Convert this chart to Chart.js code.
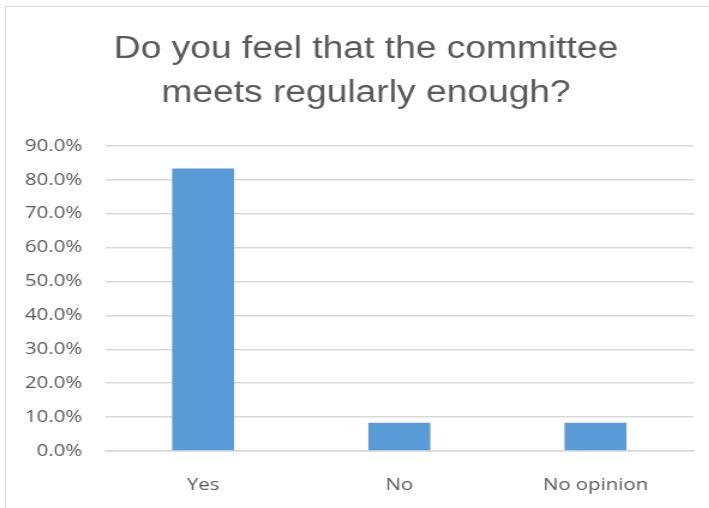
<!DOCTYPE html>
<html>
<head>
<meta charset="utf-8">
<script src="https://cdn.jsdelivr.net/npm/chart.js@4/dist/chart.umd.min.js"></script>
<style>
  body { margin: 0; background: #fff; }
  #wrap { position: relative; width: 709px; height: 508px; overflow: hidden; }
  #frame { position: absolute; left: 5px; top: 6px; width: 720px; height: 520px; border: 1px solid #d9d9d9; }
  /* the original picture is a bit stretched sideways, so stretch the canvas the same way */
  #chart { position: absolute; left: 0; top: 0; transform-origin: 0 0; transform: scaleX(1.2); }
</style>
</head>
<body>
<div id="wrap">
  <div id="frame"></div>
  <canvas id="chart" width="591" height="508"></canvas>
</div>
<script>
var categories = ["Yes", "No", "No opinion"];
var percents = [83.3, 8.3, 8.3];
var yTicks = [0, 10, 20, 30, 40, 50, 60, 70, 80, 90];
var titleLines = ["Do you feel that the committee", "meets regularly enough?"];

var chart = new Chart(document.getElementById("chart"), {
  type: 'bar',
  data: {
    labels: categories,
    datasets: [{
      data: percents,
      backgroundColor: '#5b9bd5',
      borderWidth: 0,
      categoryPercentage: 1,
      barPercentage: 0.316
    }]
  },
  options: {
    responsive: false,
    animation: false,
    layout: { padding: { left: 19, right: 0, top: 18, bottom: 12 } },
    plugins: {
      legend: { display: false },
      tooltip: { enabled: false },
      title: {
        display: true,
        text: titleLines,
        color: '#595959',
        font: { family: 'Liberation Sans', size: 31, weight: 'normal', lineHeight: 1.4 },
        padding: { top: 10, bottom: 31 }
      }
    },
    scales: {
      y: {
        min: yTicks[0],
        max: yTicks[yTicks.length - 1],
        afterBuildTicks: function(axis) {
          axis.ticks = yTicks.map(function(v) { return { value: v }; });
        },
        afterFit: function(axis) { axis.width = 68.5; },
        ticks: {
          color: '#595959',
          font: { family: 'Open Sans', size: 17 },
          padding: 19,
          callback: function(v) { return v.toFixed(1) + '%'; }
        },
        grid: { color: '#d9d9d9', lineWidth: 1.5, drawTicks: false },
        border: { display: false }
      },
      // empty axis on the right, only keeps the plot edge off the frame
      spacer: {
        position: 'right',
        min: 0,
        max: 1,
        afterFit: function(axis) { axis.width = 13; },
        ticks: { display: false },
        grid: { display: false, drawTicks: false },
        border: { display: false }
      },
      x: {
        afterFit: function(axis) { axis.height = 45; },
        ticks: {
          color: '#595959',
          font: { family: 'Open Sans', size: 17 },
          padding: 24
        },
        grid: { display: false, drawTicks: false },
        border: { color: '#d9d9d9', width: 1.5 }
      }
    }
  }
});
</script>
</body>
</html>
